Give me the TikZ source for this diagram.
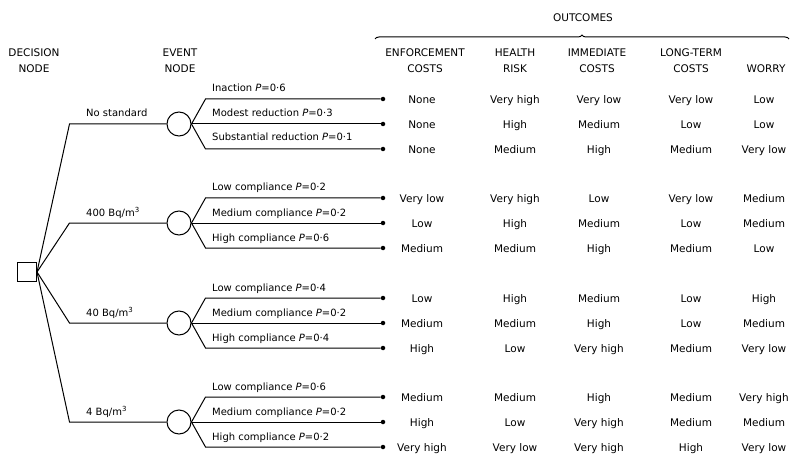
\documentclass[tikz,border=0pt]{standalone}
\usepackage{fontspec}
\setmainfont{DejaVu Sans}
\usetikzlibrary{decorations.pathreplacing}
\tikzset{
  decision/.style={draw,line width=1pt,minimum size=19pt,inner sep=0pt},
  chance/.style={circle,draw,line width=1pt,minimum size=24pt,inner sep=0pt},
  leaf/.style={circle,fill,inner sep=0pt,minimum size=4.5pt},
  branch/.style={line width=1pt},
  brlabel/.style={anchor=base west,inner sep=0pt,font=\fontsize{10}{12}\selectfont},
  head/.style={align=center,inner sep=0pt,font=\fontsize{10.5}{16}\selectfont},
  cell/.style={anchor=base,inner sep=0pt,font=\fontsize{10.5}{12}\selectfont}
}

\begin{document}
\begin{tikzpicture}[x=1pt,y=-1pt]
  \useasboundingbox (0,0) rectangle (791,454);
  \node[head] (hdec) at (34,61) {DECISION\\NODE};
  \node[head] (hev)  at (180,61) {EVENT\\NODE};
  \node[head] (hout) at (583,18) {OUTCOMES};
  \draw[branch,decorate,decoration={brace,amplitude=4pt}] (375,39) -- (789,39);
  \node[head] (henf) at (425,61) {ENFORCEMENT\\COSTS};
  \node[head] (hrisk) at (515,61) {HEALTH\\RISK};
  \node[head] (himm) at (597,61) {IMMEDIATE\\COSTS};
  \node[head] (hlong) at (691,61) {LONG-TERM\\COSTS};
  \node[head] (hworry) at (766,69) {WORRY};

  \node[decision] (dec) at (27,272) {};
  \foreach \i/\y in {1/124,2/223,3/323,4/422}{
    \node[chance] (ev\i) at (179,\y) {};
    \node[leaf] (l\i1) at (383,\y-25) {};
    \node[leaf] (l\i2) at (383,\y) {};
    \node[leaf] (l\i3) at (383,\y+25) {};
    \draw[branch] (dec.east) -- ([xshift=-97pt]ev\i.west) -- (ev\i);
    \draw[branch] (ev\i.east) -- ++(14,-25) -- (l\i1);
    \draw[branch] (ev\i.east) -- (l\i2);
    \draw[branch] (ev\i.east) -- ++(14,25) -- (l\i3);
  }

  \node[brlabel] (d1) at (86,117) {No standard};
  \node[brlabel] (d2) at (86,216) {400 Bq/m\textsuperscript{3}};
  \node[brlabel] (d3) at (86,316) {40 Bq/m\textsuperscript{3}};
  \node[brlabel] (d4) at (86,415) {4 Bq/m\textsuperscript{3}};

  \node[brlabel] (p11) at (212,92) {Inaction \textit{P}=0·6};
  \node[brlabel] (p12) at (212,117) {Modest reduction \textit{P}=0·3};
  \node[brlabel] (p13) at (212,141) {Substantial reduction \textit{P}=0·1};
  \node[brlabel] (p21) at (212,191) {Low compliance \textit{P}=0·2};
  \node[brlabel] (p22) at (212,216) {Medium compliance \textit{P}=0·2};
  \node[brlabel] (p23) at (212,241) {High compliance \textit{P}=0·6};
  \node[brlabel] (p31) at (212,291) {Low compliance \textit{P}=0·4};
  \node[brlabel] (p32) at (212,316) {Medium compliance \textit{P}=0·2};
  \node[brlabel] (p33) at (212,341) {High compliance \textit{P}=0·4};
  \node[brlabel] (p41) at (212,390) {Low compliance \textit{P}=0·6};
  \node[brlabel] (p42) at (212,415) {Medium compliance \textit{P}=0·2};
  \node[brlabel] (p43) at (212,440) {High compliance \textit{P}=0·2};

  \foreach \y/\a/\b/\c/\d/\e in {
      99/None/Very high/Very low/Very low/Low,
      124/None/High/Medium/Low/Low,
      149/None/Medium/High/Medium/Very low,
      198/Very low/Very high/Low/Very low/Medium,
      223/Low/High/Medium/Low/Medium,
      248/Medium/Medium/High/Medium/Low,
      298/Low/High/Medium/Low/High,
      323/Medium/Medium/High/Low/Medium,
      348/High/Low/Very high/Medium/Very low,
      397/Medium/Medium/High/Medium/Very high,
      422/High/Low/Very high/Medium/Medium,
      447/Very high/Very low/Very high/High/Very low}{
    \node[cell] (enf\y) at (422,\y+4.5) {\a};
    \node[cell] (risk\y) at (515,\y+4.5) {\b};
    \node[cell] (imm\y) at (599,\y+4.5) {\c};
    \node[cell] (long\y) at (691,\y+4.5) {\d};
    \node[cell] (worry\y) at (764,\y+4.5) {\e};
  }
\end{tikzpicture}
\end{document}
